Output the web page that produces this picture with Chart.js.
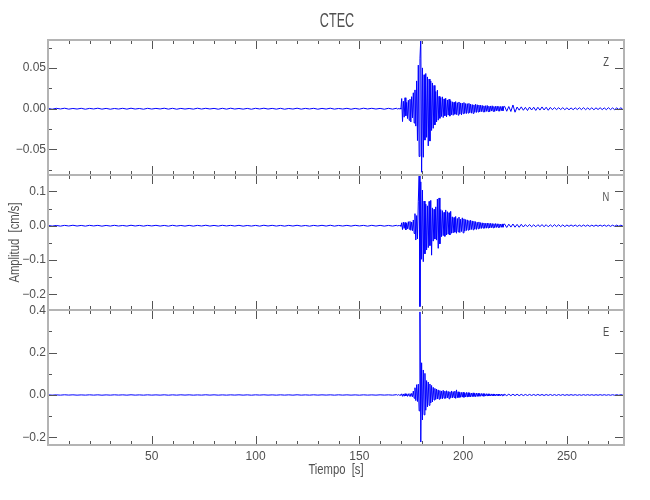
<!DOCTYPE html>
<html lang="es">
<head>
<meta charset="UTF-8">
<title>CTEC</title>
<script src="https://cdn.jsdelivr.net/npm/chart.js"></script>
<style>
  body { margin: 0; background: #fff; }
  .wrap { position: relative; width: 650px; height: 500px; }
  .wrap canvas { position: absolute; left: 0; top: 0; }
</style>
</head>
<body>
<div class="wrap">
  <canvas id="zChart" width="650" height="500"></canvas>
  <canvas id="nChart" width="650" height="500"></canvas>
  <canvas id="eChart" width="650" height="500"></canvas>
</div>
<script>
// sampling of the three segments (seconds)
const QUIET_T0 = 0,   QUIET_DT = 2;     // 0 .. 166
const EVENT_T0 = 168, EVENT_DT = 0.4;   // 168 .. 219.6
const CODA_T0 = 220,  CODA_DT = 1;      // 220 .. 277

// ---- Z component [cm/s]
const zQuiet = [
  0.0004,-0.0006,0.0005,-0.0003,0.0006,-0.0005,0.0003,-0.0004,0.0005,-0.0006,
  0.0004,-0.0003,0.0006,-0.0005,0.0004,-0.0006,0.0003,-0.0004,0.0005,-0.0005,
  0.0006,-0.0004,0.0003,-0.0006,0.0005,-0.0004,0.0004,-0.0003,0.0006,-0.0005,
  0.0005,-0.0006,0.0004,-0.0004,0.0003,-0.0005,0.0006,-0.0004,0.0005,-0.0003,
  0.0004,-0.0006,0.0005,-0.0005,0.0006,-0.0004,0.0003,-0.0005,0.0004,-0.0006,
  0.0005,-0.0003,0.0006,-0.0004,0.0004,-0.0005,0.0005,-0.0006,0.0003,-0.0004,
  0.0006,-0.0005,0.0004,-0.0003,0.0005,-0.0006,0.0004,-0.0004,0.0006,-0.0005,
  0.0003,-0.0004,0.0005,-0.0006,0.0004,-0.0005,0.0006,-0.0003,0.0005,-0.0004,
  0.0004,-0.0006,0.0005,-0.0005
];
const zEvent = [
  0.0006,-0.0007,0.0005,-0.0006,0.0007,-0.0005,0.0125,-0.0158,0.0092,-0.0104,
  0.0135,-0.0087,0.0078,-0.0121,0.0104,-0.0142,0.0117,-0.0163,0.0148,-0.0112,
  0.0196,-0.0176,0.0231,-0.0214,0.0342,-0.0392,0.0536,-0.0588,0.0614,0.0862,
  -0.0781,0.0502,-0.0597,0.0418,-0.0386,0.0433,-0.0352,0.0391,-0.0457,0.0365,
  -0.0398,0.0342,-0.0268,0.0317,-0.0241,0.0286,-0.0199,0.0212,-0.0163,0.0228,
  -0.0141,0.0152,-0.0118,0.0137,-0.0096,0.0146,-0.0109,0.0121,-0.0087,0.0129,
  -0.0102,0.0108,-0.0079,0.0116,-0.0091,0.0098,-0.0074,0.0085,-0.0081,0.0079,
  -0.0068,0.0088,-0.0072,0.0074,-0.0079,0.0083,-0.0065,0.0071,-0.0077,0.0069,
  -0.0061,0.0076,-0.0058,0.0064,-0.0059,0.0062,-0.0054,0.0066,-0.0049,0.0057,
  -0.0055,0.0051,-0.0058,0.0047,-0.0044,0.0055,-0.0046,0.0049,-0.0041,0.0045,
  -0.0039,0.0043,-0.0036,0.0041,-0.0038,0.0035,-0.0042,0.0037,-0.0033,0.0040,
  -0.0035,0.0031,-0.0037,0.0034,-0.0029,0.0036,-0.0032,0.0028,-0.0034,0.0030,
  -0.0027,0.0032,-0.0026,0.0029,-0.0031,0.0027,-0.0024,0.0028,-0.0025,0.0026
];
const zCoda = [
  0.0029,-0.0031,0.0027,-0.0034,0.0046,-0.0043,
  0.0021,-0.0018,0.0023,-0.0019,0.0017,-0.0022,0.0020,-0.0016,0.0019,-0.0021,
  0.0018,-0.0017,0.0022,-0.0015,0.0018,-0.0019,0.0016,
  -0.0012,0.0013,-0.0011,0.0012,-0.0010,0.0013,-0.0012,0.0011,-0.0013,0.0010,
  -0.0012,0.0011,-0.0010,0.0012,-0.0011,0.0013,-0.0012,0.0010,-0.0011,0.0012,
  -0.0013,0.0011,-0.0010,0.0012,-0.0011,0.0010,-0.0012,0.0013,-0.0011,0.0010,
  -0.0012,0.0011,-0.0010,0.0012,-0.0011
];

// ---- N component [cm/s]
const nQuiet = [
  0.0009,-0.0011,0.0007,-0.0012,0.0010,-0.0008,0.0013,-0.0009,0.0008,-0.0012,
  0.0011,-0.0007,0.0010,-0.0013,0.0008,-0.0010,0.0012,-0.0009,0.0007,-0.0011,
  0.0013,-0.0008,0.0009,-0.0012,0.0010,-0.0007,0.0011,-0.0010,0.0008,-0.0013,
  0.0012,-0.0009,0.0007,-0.0011,0.0010,-0.0012,0.0009,-0.0008,0.0013,-0.0010,
  0.0008,-0.0011,0.0012,-0.0007,0.0010,-0.0009,0.0011,-0.0013,0.0007,-0.0010,
  0.0009,-0.0012,0.0013,-0.0008,0.0011,-0.0010,0.0008,-0.0012,0.0010,-0.0009,
  0.0012,-0.0011,0.0007,-0.0013,0.0009,-0.0008,0.0011,-0.0010,0.0013,-0.0012,
  0.0008,-0.0009,0.0010,-0.0011,0.0012,-0.0007,0.0009,-0.0013,0.0011,-0.0010,
  0.0010,-0.0012,0.0008,-0.0011
];
const nEvent = [
  0.0012,-0.0015,0.0018,-0.0011,0.0014,-0.0017,0.0085,-0.0112,0.0104,-0.0078,
  0.0095,-0.0121,0.0072,-0.0089,0.0118,-0.0102,0.0126,-0.0134,0.0109,-0.0145,
  0.0168,-0.0227,0.0352,-0.0418,0.0296,-0.0384,0.0712,0.1460,-0.2360,0.1280,
  -0.0980,0.1040,-0.1050,0.0720,-0.0820,0.0630,-0.0710,0.0580,-0.0640,0.0710,
  -0.0580,0.0740,-0.0860,0.0520,-0.0450,0.0480,-0.0390,0.0550,-0.0420,0.0780,
  -0.0660,0.0810,-0.0530,0.0470,-0.0320,0.0440,-0.0290,0.0390,-0.0310,0.0460,
  -0.0270,0.0410,-0.0250,0.0380,-0.0270,0.0420,-0.0220,0.0260,-0.0210,0.0240,
  -0.0190,0.0270,-0.0220,0.0210,-0.0180,0.0250,-0.0200,0.0190,-0.0170,0.0230,
  -0.0210,0.0200,-0.0160,0.0180,-0.0140,0.0170,-0.0130,0.0150,-0.0120,0.0160,
  -0.0110,0.0140,-0.0120,0.0130,-0.0100,0.0120,-0.0110,0.0100,-0.0090,0.0110,
  -0.0080,0.0090,-0.0080,0.0085,-0.0070,0.0080,-0.0075,0.0068,-0.0072,0.0079,
  -0.0066,0.0071,-0.0063,0.0068,-0.0059,0.0065,-0.0061,0.0058,-0.0055,0.0062,
  -0.0052,0.0057,-0.0049,0.0054,-0.0051,0.0048,-0.0046,0.0052,-0.0044,0.0047
];
const nCoda = [
  0.0048,-0.0052,0.0045,-0.0041,0.0050,-0.0044,0.0039,-0.0046,0.0042,-0.0037,
  0.0032,-0.0029,0.0034,-0.0031,0.0027,-0.0033,0.0030,-0.0026,0.0031,-0.0028,
  0.0029,-0.0032,0.0026,-0.0027,0.0030,-0.0025,0.0028,-0.0026,0.0024,-0.0027,
  0.0021,-0.0019,0.0022,-0.0018,0.0020,-0.0021,0.0017,-0.0019,0.0020,-0.0018,
  0.0019,-0.0020,0.0016,-0.0018,0.0019,-0.0017,0.0018,-0.0016,0.0019,-0.0018,
  0.0017,-0.0019,0.0016,-0.0017,0.0018,-0.0016,0.0017,-0.0015
];

// ---- E component [cm/s]
const eQuiet = [
  0.0006,-0.0008,0.0005,-0.0007,0.0009,-0.0005,0.0007,-0.0008,0.0004,-0.0006,
  0.0008,-0.0006,0.0007,-0.0009,0.0005,-0.0007,0.0008,-0.0005,0.0006,-0.0008,
  0.0009,-0.0006,0.0005,-0.0008,0.0007,-0.0006,0.0005,-0.0007,0.0008,-0.0009,
  0.0006,-0.0007,0.0008,-0.0005,0.0007,-0.0008,0.0004,-0.0006,0.0009,-0.0006,
  0.0007,-0.0008,0.0005,-0.0007,0.0006,-0.0005,0.0008,-0.0007,0.0006,-0.0009,
  0.0007,-0.0005,0.0008,-0.0006,0.0005,-0.0008,0.0007,-0.0006,0.0006,-0.0008,
  0.0009,-0.0007,0.0005,-0.0007,0.0008,-0.0006,0.0006,-0.0005,0.0007,-0.0008,
  0.0008,-0.0006,0.0006,-0.0007,0.0005,-0.0009,0.0007,-0.0006,0.0005,-0.0007,
  0.0008,-0.0005,0.0006,-0.0008
];
const eEvent = [
  0.0015,-0.0012,0.0018,-0.0016,0.0011,-0.0014,0.0055,-0.0062,0.0048,-0.0057,
  0.0061,-0.0045,0.0052,-0.0066,0.0058,-0.0049,0.0064,-0.0071,0.0075,-0.0082,
  0.0185,-0.0154,0.0342,-0.0265,0.0487,-0.0308,0.0512,-0.0750,0.3920,-0.2220,
  0.1520,-0.1180,0.1180,-0.0940,0.1020,-0.0720,0.0680,-0.0560,0.0610,-0.0490,
  0.0520,-0.0380,0.0450,-0.0330,0.0360,-0.0240,0.0310,-0.0210,0.0280,-0.0190,
  0.0240,-0.0200,0.0210,-0.0170,0.0190,-0.0180,0.0220,-0.0150,0.0180,-0.0160,
  0.0200,-0.0140,0.0170,-0.0180,0.0150,-0.0130,0.0190,-0.0140,0.0160,-0.0120,
  0.0180,-0.0160,0.0240,-0.0130,0.0150,-0.0120,0.0130,-0.0110,0.0120,-0.0100,
  0.0130,-0.0110,0.0100,-0.0090,0.0120,-0.0100,0.0110,-0.0080,0.0100,-0.0090,
  0.0090,-0.0080,0.0100,-0.0070,0.0080,-0.0080,0.0090,-0.0070,0.0080,-0.0060,
  0.0070,-0.0060,0.0070,-0.0055,0.0065,-0.0060,0.0058,-0.0050,0.0060,-0.0052,
  0.0055,-0.0048,0.0052,-0.0045,0.0050,-0.0047,0.0049,-0.0042,0.0046,-0.0044,
  0.0043,-0.0040,0.0045,-0.0038,0.0041,-0.0037,0.0040,-0.0035,0.0038,-0.0034
];
const eCoda = [
  0.0036,-0.0033,0.0038,-0.0031,0.0035,-0.0029,0.0034,-0.0032,0.0030,-0.0028,
  0.0026,-0.0024,0.0027,-0.0022,0.0025,-0.0023,0.0028,-0.0021,0.0024,-0.0025,
  0.0022,-0.0020,0.0023,-0.0021,0.0019,-0.0022,0.0020,-0.0018,0.0021,-0.0019,
  0.0016,-0.0015,0.0017,-0.0014,0.0015,-0.0016,0.0013,-0.0015,0.0016,-0.0014,
  0.0015,-0.0013,0.0014,-0.0015,0.0013,-0.0014,0.0015,-0.0012,0.0014,-0.0013,
  0.0012,-0.0014,0.0013,-0.0012,0.0014,-0.0013,0.0012,-0.0011
];

// ---- axes
const xTicks = [50, 100, 150, 200, 250];
const xTickLabels = ['50', '100', '150', '200', '250'];
const xMinor = [10,20,30,40,60,70,80,90,110,120,130,140,160,170,180,190,210,220,230,240,260,270];

const zTicks = [-0.05, 0, 0.05];
const zTickLabels = ['\u22120.05', '0.00', '0.05'];
const zMinor = [-0.075, -0.025, 0.025, 0.075];

const nTicks = [-0.2, -0.1, 0, 0.1];
const nTickLabels = ['\u22120.2', '\u22120.1', '0.0', '0.1'];
const nMinor = [-0.15, -0.05, 0.05];

const eTicks = [-0.2, 0, 0.2, 0.4];
const eTickLabels = ['\u22120.2', '0.0', '0.2', '0.4'];
const eMinor = [-0.1, 0.1, 0.3];

const FONT = "'Liberation Sans', Arial, sans-serif";
const TEXT = '#505050';

function toPoints(quiet, event, coda) {
    const pts = [];
    quiet.forEach((v, i) => pts.push({ x: QUIET_T0 + i * QUIET_DT, y: v }));
    event.forEach((v, i) => pts.push({ x: EVENT_T0 + i * EVENT_DT, y: v }));
    coda.forEach((v, i) => pts.push({ x: CODA_T0 + i * CODA_DT, y: v }));
    return pts;
}

// narrow text, like the plotting font of the original
function narrowText(ctx, str, x, y, size, squeeze, rot) {
    ctx.save();
    ctx.translate(x, y);
    if (rot) ctx.rotate(rot);
    ctx.scale(squeeze, 1);
    ctx.font = size + 'px ' + FONT;
    ctx.fillText(str, 0, 0);
    ctx.restore();
}

// IDL-like box with inward ticks on all four sides
const framePlugin = {
    id: 'frame',
    afterDraw(chart, args, o) {
        const { ctx, chartArea: a, scales: { x, y } } = chart;
        ctx.save();
        ctx.strokeStyle = '#555';
        ctx.lineWidth = 1;
        ctx.beginPath();
        const xt = (vals, len) => vals.forEach(v => {
            const px = Math.round(x.getPixelForValue(v)) + 0.5;
            ctx.moveTo(px, a.top); ctx.lineTo(px, a.top + len);
            ctx.moveTo(px, a.bottom); ctx.lineTo(px, a.bottom - len);
        });
        const yt = (vals, len) => vals.forEach(v => {
            const py = Math.round(y.getPixelForValue(v)) + 0.5;
            ctx.moveTo(a.left, py); ctx.lineTo(a.left + len, py);
            ctx.moveTo(a.right, py); ctx.lineTo(a.right - len, py);
        });
        xt(xTicks, 9); xt(xMinor, 4);
        yt(o.major, 9); yt(o.minor, 4);
        ctx.stroke();

        ctx.strokeStyle = '#b4b4b4';
        ctx.lineWidth = 2;
        ctx.strokeRect(a.left, a.top, a.right - a.left, a.bottom - a.top);

        ctx.fillStyle = TEXT;
        ctx.textAlign = 'center';
        ctx.textBaseline = 'middle';
        narrowText(ctx, o.name, a.right - 18, a.top + 22, 13, 0.72);
        ctx.restore();
    }
};

// figure title and axis titles
const labelsPlugin = {
    id: 'labels',
    afterDraw(chart) {
        const ctx = chart.ctx;
        const a = chart.chartArea;
        const cx = (a.left + a.right) / 2;
        ctx.save();
        ctx.fillStyle = TEXT;
        ctx.textAlign = 'center';
        ctx.textBaseline = 'middle';
        narrowText(ctx, 'CTEC', cx + 1, 21, 21, 0.6);
        narrowText(ctx, 'Tiempo  [s]', cx, 470, 15, 0.75);
        narrowText(ctx, 'Amplitud  [cm/s]', 15, 242.5, 15, 0.75, -Math.PI / 2);
        ctx.restore();
    }
};

function makePanel(id, pts, name, yMin, yMax, major, labels, minor, top, bottom, showX) {
    const tickFont = { family: FONT, size: 12 };
    return new Chart(document.getElementById(id), {
        type: 'line',
        data: {
            datasets: [{
                data: pts,
                borderColor: '#0000ff',
                borderWidth: 1,
                pointRadius: 0,
                tension: 0,
                fill: false
            }]
        },
        options: {
            responsive: false,
            animation: false,
            parsing: false,
            events: [],
            layout: { padding: { left: 0, right: 26, top: top, bottom: showX ? 0 : 500 - bottom } },
            plugins: {
                legend: { display: false },
                tooltip: { enabled: false },
                frame: { major: major, minor: minor, name: name }
            },
            scales: {
                x: {
                    type: 'linear',
                    min: 0,
                    max: 277.5,
                    display: showX,
                    afterFit: s => { if (showX) s.height = 500 - bottom; },
                    afterBuildTicks: s => { s.ticks = xTicks.map(v => ({ value: v })); },
                    ticks: { font: tickFont, color: TEXT, padding: 4, maxRotation: 0, callback: (v, i) => xTickLabels[i] },
                    grid: { display: false, drawTicks: false },
                    border: { display: false }
                },
                y: {
                    min: yMin,
                    max: yMax,
                    afterFit: s => { s.width = 48; },
                    afterBuildTicks: s => { s.ticks = major.map(v => ({ value: v })); },
                    ticks: { font: tickFont, color: TEXT, padding: 2, callback: (v, i) => labels[i] },
                    grid: { display: false, drawTicks: false },
                    border: { display: false }
                }
            }
        },
        plugins: showX ? [framePlugin, labelsPlugin] : [framePlugin]
    });
}

makePanel('zChart', toPoints(zQuiet, zEvent, zCoda), 'Z', -0.0815, 0.0845, zTicks, zTickLabels, zMinor, 40, 175, false);
makePanel('nChart', toPoints(nQuiet, nEvent, nCoda), 'N', -0.246, 0.148, nTicks, nTickLabels, nMinor, 175, 310, false);
makePanel('eChart', toPoints(eQuiet, eEvent, eCoda), 'E', -0.236, 0.401, eTicks, eTickLabels, eMinor, 310, 445, true);
</script>
</body>
</html>
